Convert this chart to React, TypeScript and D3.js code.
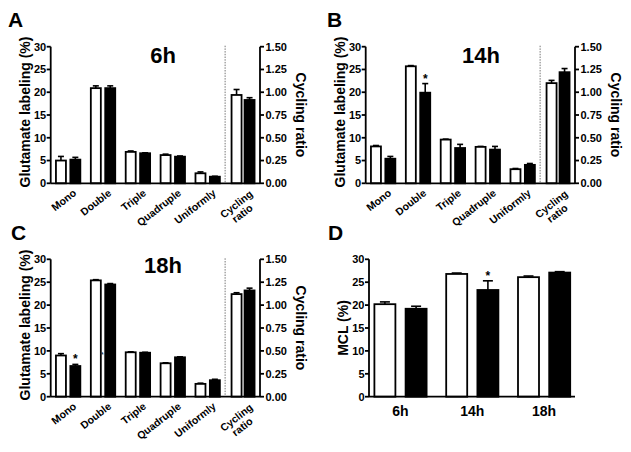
import React from 'react';
import * as d3 from 'd3';

// ---------- data ----------
const categories = ['Mono', 'Double', 'Triple', 'Quadruple', 'Uniformly'];
const cyclingLabel = ['Cycling', 'ratio'];
const leftTicks = [0, 5, 10, 15, 20, 25, 30];
const rightTicks = [0, 0.25, 0.5, 0.75, 1.0, 1.25, 1.5];

// 6h
const h6White = [5.0, 20.9, 6.9, 6.2, 2.2];
const h6WhiteErr = [0.9, 0.5, 0.2, 0.2, 0.3];
const h6Black = [5.2, 20.9, 6.6, 5.85, 1.45];
const h6BlackErr = [0.5, 0.5, 0.1, 0.15, 0.1];
const h6Cyc = [0.97, 0.915];
const h6CycErr = [0.06, 0.025];
const h6Stars: number[] = [];

// 14h
const h14White = [8.1, 25.7, 9.6, 8.0, 3.1];
const h14WhiteErr = [0.2, 0.15, 0.1, 0.1, 0.15];
const h14Black = [5.4, 19.9, 7.75, 7.4, 4.05];
const h14BlackErr = [0.5, 2.0, 0.8, 0.7, 0.3];
const h14Cyc = [1.1, 1.22];
const h14CycErr = [0.03, 0.04];
const h14Stars = [1];

// 18h
const h18White = [9.0, 25.4, 9.7, 7.3, 2.8];
const h18WhiteErr = [0.4, 0.15, 0.1, 0.1, 0.15];
const h18Black = [6.7, 24.5, 9.6, 8.6, 3.6];
const h18BlackErr = [0.35, 0.2, 0.1, 0.1, 0.2];
const h18Cyc = [1.12, 1.16];
const h18CycErr = [0.015, 0.025];
const h18Stars = [0];

// MCL
const mclGroups = ['6h', '14h', '18h'];
const mclWhite = [20.2, 26.8, 26.1];
const mclWhiteErr = [0.5, 0.2, 0.25];
const mclBlack = [19.2, 23.3, 27.1];
const mclBlackErr = [0.55, 2.0, 0.2];
const mclStars = [1];

const FONT = 'Liberation Sans, Arial, Helvetica, sans-serif';

type PanelProps = {
  letter: string;
  letterX: number;
  letterY: number;
  title: string;
  titleX: number;
  titleY: number;
  x0: number;
  x1: number;
  yTop: number;
  yBot: number;
  white: number[];
  whiteErr: number[];
  black: number[];
  blackErr: number[];
  cyc: number[];
  cycErr: number[];
  stars: number[];
  yLabelX: number;
  rLabelX: number;
  extraMark?: boolean;
};

function ErrBar({ x, y0, y1, cap }: { x: number; y0: number; y1: number; cap: number }) {
  return (
    <g stroke="#000" strokeWidth={1.6}>
      <line x1={x} x2={x} y1={y0} y2={y1} />
      <line x1={x - cap} x2={x + cap} y1={y1} y2={y1} />
    </g>
  );
}

function Panel(p: PanelProps) {
  const all = [...categories, 'cyc'];
  const x = d3.scaleBand<string>().domain(all).range([p.x0, p.x1]).paddingInner(0).paddingOuter(0);
  const y = d3.scaleLinear().domain([0, 30]).range([p.yBot, p.yTop]);
  const yr = d3.scaleLinear().domain([0, 1.5]).range([p.yBot, p.yTop]);
  const bw = 10;
  const off = 7.2;
  const dashX = x('cyc')!;
  const yMid = (p.yTop + p.yBot) / 2;

  const bar = (cx: number, v: number, e: number, sc: d3.ScaleLinear<number, number>, fill: string, key: string) => (
    <g key={key}>
      <ErrBar x={cx} y0={sc(v)} y1={sc(v + e)} cap={3} />
      <rect x={cx - bw / 2} y={sc(v)} width={bw} height={p.yBot - sc(v)} fill={fill} stroke="#000" strokeWidth={1.8} />
    </g>
  );

  return (
    <g fontFamily={FONT} fontWeight="bold">
      <text x={p.letterX} y={p.letterY} fontSize={21}>{p.letter}</text>
      <text x={p.titleX} y={p.titleY} fontSize={22} textAnchor="middle">{p.title}</text>
      {/* bars */}
      {categories.map((c, i) => {
        const cx = x(c)! + x.bandwidth() / 2;
        return (
          <g key={c}>
            {bar(cx - off, p.white[i], p.whiteErr[i], y, '#fff', 'w')}
            {bar(cx + off, p.black[i], p.blackErr[i], y, '#000', 'b')}
          </g>
        );
      })}
      {(() => {
        const cx = x('cyc')! + x.bandwidth() / 2 + 0.5;
        return (
          <g>
            {bar(cx - 6.5, p.cyc[0], p.cycErr[0], yr, '#fff', 'cw')}
            {bar(cx + 6.5, p.cyc[1], p.cycErr[1], yr, '#000', 'cb')}
          </g>
        );
      })()}
      {p.stars.map((i) => {
        const cx = x(categories[i])! + x.bandwidth() / 2 + off;
        return (
          <text key={i} x={cx} y={y(p.black[i] + p.blackErr[i]) - 1} fontSize={12} textAnchor="middle">*</text>
        );
      })}
      {p.extraMark && (
        <text x={x('Double')! + x.bandwidth() / 2 - 1} y={y(8.6)} fontSize={8} textAnchor="middle" fill="#333">*</text>
      )}
      {/* dotted separator */}
      <line x1={dashX} x2={dashX} y1={p.yTop - 1} y2={p.yBot} stroke="#777" strokeWidth={1} strokeDasharray="1.5,1.2" />
      {/* axes */}
      <g stroke="#000" strokeWidth={1.8}>
        <line x1={p.x0} x2={p.x0} y1={p.yTop} y2={p.yBot} />
        <line x1={p.x1} x2={p.x1} y1={p.yTop} y2={p.yBot} />
        <line x1={p.x0} x2={p.x1} y1={p.yBot} y2={p.yBot} />
        {leftTicks.map((t) => (
          <line key={t} x1={p.x0 - 4} x2={p.x0} y1={y(t)} y2={y(t)} />
        ))}
        {rightTicks.map((t) => (
          <line key={t} x1={p.x1} x2={p.x1 + 4} y1={yr(t)} y2={yr(t)} />
        ))}
      </g>
      {leftTicks.map((t) => (
        <text key={t} x={p.x0 - 4.5} y={y(t)} dy="0.36em" fontSize={11} textAnchor="end">{t}</text>
      ))}
      {rightTicks.map((t) => (
        <text key={t} x={p.x1 + 5.5} y={yr(t)} dy="0.36em" fontSize={11} textAnchor="start">{d3.format('.2f')(t)}</text>
      ))}
      {/* category labels */}
      {categories.map((c) => {
        const cx = x(c)! + x.bandwidth() / 2;
        return (
          <text key={c} transform={`translate(${cx + 9},${p.yBot + 11}) rotate(-38)`} fontSize={10.5} textAnchor="end">{c}</text>
        );
      })}
      {(() => {
        const cx = x('cyc')! + x.bandwidth() / 2;
        return (
          <g transform={`translate(${cx + 11},${p.yBot + 12}) rotate(-38)`} fontSize={10.5}>
            <text x={0} y={0} textAnchor="end">{cyclingLabel[0]}</text>
            <text x={-20} y={11} textAnchor="middle">{cyclingLabel[1]}</text>
          </g>
        );
      })()}
      <text transform={`translate(${p.yLabelX},${yMid - 3}) rotate(-90)`} fontSize={14} textAnchor="middle" dy="0.35em">Glutamate labeling (%)</text>
      <text transform={`translate(${p.rLabelX},${yMid}) rotate(90)`} fontSize={14} textAnchor="middle" dy="0.35em">Cycling ratio</text>
    </g>
  );
}

function MclPanel() {
  const x0 = 369, axisEnd = 575, yTop = 259.3, yBot = 396.7;
  const x = d3.scaleBand<string>().domain(mclGroups).range([x0, x0 + 3 * 71.8]).paddingInner(0).paddingOuter(0);
  const y = d3.scaleLinear().domain([0, 30]).range([yBot, yTop]);
  const bw = 21;
  const off = 15.6;
  const centerShift = 31.5 - x.bandwidth() / 2;
  return (
    <g fontFamily={FONT} fontWeight="bold">
      <text x={328} y={240} fontSize={21}>D</text>
      {mclGroups.map((g, i) => {
        const cx = x(g)! + x.bandwidth() / 2 + centerShift;
        return (
          <g key={g}>
            <ErrBar x={cx - off} y0={y(mclWhite[i])} y1={y(mclWhite[i] + mclWhiteErr[i])} cap={5} />
            <rect x={cx - off - bw / 2} y={y(mclWhite[i])} width={bw} height={yBot - y(mclWhite[i])} fill="#fff" stroke="#000" strokeWidth={1.8} />
            <ErrBar x={cx + off} y0={y(mclBlack[i])} y1={y(mclBlack[i] + mclBlackErr[i])} cap={5} />
            <rect x={cx + off - bw / 2} y={y(mclBlack[i])} width={bw} height={yBot - y(mclBlack[i])} fill="#000" stroke="#000" strokeWidth={1.8} />
            <text x={cx} y={yBot + 19} fontSize={14} textAnchor="middle">{g}</text>
          </g>
        );
      })}
      {mclStars.map((i) => {
        const cx = x(mclGroups[i])! + x.bandwidth() / 2 + centerShift + off;
        return <text key={i} x={cx} y={y(mclBlack[i] + mclBlackErr[i]) - 1} fontSize={12} textAnchor="middle">*</text>;
      })}
      <g stroke="#000" strokeWidth={1.8}>
        <line x1={x0} x2={x0} y1={yTop} y2={yBot} />
        <line x1={x0} x2={axisEnd} y1={yBot} y2={yBot} />
        {leftTicks.map((t) => (
          <line key={t} x1={x0 - 4} x2={x0} y1={y(t)} y2={y(t)} />
        ))}
      </g>
      {leftTicks.map((t) => (
        <text key={t} x={x0 - 4.5} y={y(t)} dy="0.36em" fontSize={11} textAnchor="end">{t}</text>
      ))}
      <text transform={`translate(343,${(yTop + yBot) / 2}) rotate(-90)`} fontSize={14} textAnchor="middle" dy="0.35em">MCL (%)</text>
    </g>
  );
}

export default function App() {
  return (
    <svg width={631} height={452} style={{ position: 'absolute', left: 0, top: 0, background: '#fff' }}>
      <rect width={631} height={452} fill="#fff" />
      <Panel letter="A" letterX={8} letterY={27} title="6h" titleX={163} titleY={63}
        x0={50.7} x1={260} yTop={46.7} yBot={183.3}
        white={h6White} whiteErr={h6WhiteErr} black={h6Black} blackErr={h6BlackErr}
        cyc={h6Cyc} cycErr={h6CycErr} stars={h6Stars} yLabelX={25} rLabelX={301} />
      <Panel letter="B" letterX={327} letterY={27} title="14h" titleX={481} titleY={63}
        x0={365.7} x1={575} yTop={46.7} yBot={183.3}
        white={h14White} whiteErr={h14WhiteErr} black={h14Black} blackErr={h14BlackErr}
        cyc={h14Cyc} cycErr={h14CycErr} stars={h14Stars} yLabelX={340} rLabelX={616} />
      <Panel letter="C" letterX={11} letterY={240} title="18h" titleX={163} titleY={273}
        x0={50.7} x1={260} yTop={259.3} yBot={396.7}
        white={h18White} whiteErr={h18WhiteErr} black={h18Black} blackErr={h18BlackErr}
        cyc={h18Cyc} cycErr={h18CycErr} stars={h18Stars} yLabelX={25} rLabelX={301} extraMark />
      <MclPanel />
    </svg>
  );
}
